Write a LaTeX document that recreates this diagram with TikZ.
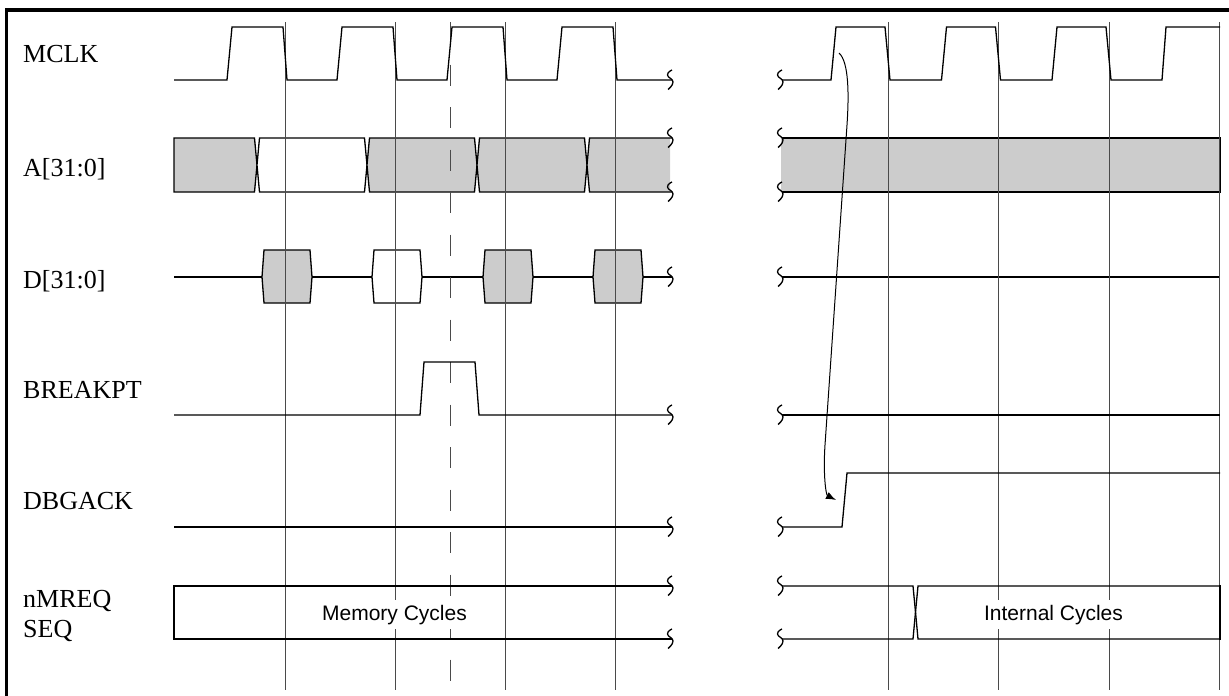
\documentclass[tikz,border=0pt]{standalone}
\usepackage{fontspec}
\setmainfont{Liberation Serif}
\setsansfont{Liberation Sans}
\usetikzlibrary{arrows.meta}
\definecolor{BusGray}{HTML}{CCCCCC}
\definecolor{GridGray}{HTML}{4A4A4A}
\tikzset{
  wave/.style={line width=1.3pt, draw=black},
  gridline/.style={line width=0.9pt, draw=GridGray},
  markerline/.style={gridline, dash pattern=on 21.3pt off 21.2pt},
  frameline/.style={line width=3.5pt, draw=black, line join=miter},
  edgeright/.style={line width=2.2pt, draw=black},
  siglabel/.style={anchor=base west, inner sep=0pt, font=\fontsize{26}{30}\selectfont},
  cyclelabel/.style={fill=white, inner xsep=1pt, inner ysep=5pt, font=\sffamily\fontsize{21}{25}\selectfont},
  edgearrow/.style={-{Latex[length=10pt,width=7.5pt]}, line width=1pt}
}
% break mark at the cut of a waveform
\newcommand{\wavebreak}[2]{\draw[wave] plot[smooth,tension=0.9] coordinates {({#1+2},{#2-10}) ({#1-2.5},{#2-5}) ({#1+3},{#2+2}) ({#1-2},{#2+9.5})};}

\begin{document}
\begin{tikzpicture}[x=1pt,y=-1pt]
    \useasboundingbox (0,0) rectangle (1229,696);
    \draw[frameline] (6.5,696) -- (6.5,10) -- (1229,10);

    % signal names
    \node[siglabel] (lmclk) at (23,62) {MCLK};
    \node[siglabel] (laddr) at (23,176) {A[31:0]};
    \node[siglabel] (ldata) at (23,288) {D[31:0]};
    \node[siglabel] (lbreak) at (23,398) {BREAKPT};
    \node[siglabel] (lack) at (23,509) {DBGACK};
    \node[siglabel] (lmreq) at (23,607) {nMREQ};
    \node[siglabel] (lseq) at (23,637) {SEQ};

    % address bus
    \filldraw[wave,fill=BusGray] (174,138) -- (254.5,138) -- (257,165) -- (254.5,192) -- (174,192) -- cycle;
    \foreach \a/\b/\f in {257/367/white,367/477/BusGray,477/587/BusGray}
      \filldraw[wave,fill=\f] ({\a+2.5},138) -- ({\b-2.5},138) -- (\b,165) -- ({\b-2.5},192) -- ({\a+2.5},192) -- (\a,165) -- cycle;
    \fill[BusGray] (589.5,138) -- (670,138) -- (670,192) -- (589.5,192) -- (587,165) -- cycle;
    \draw[wave] (672,138) -- (589.5,138) -- (587,165) -- (589.5,192) -- (672,192);
    \fill[BusGray] (781,138) rectangle (1220,192);
    \draw[wave] (782,138) -- (1220,138);
    \draw[wave] (782,192) -- (1220,192);
    \draw[edgeright] (1220,137) -- (1220,193);

    % data bus
    \draw[wave] (174,277) -- (672,277);
    \draw[wave] (782,277) -- (1220,277);
    \foreach \c/\f in {287/BusGray,397/white,508/BusGray,618/BusGray}
      \filldraw[wave,fill=\f] ({\c-25},277) -- ({\c-23},250) -- ({\c+23},250) -- ({\c+25},277) -- ({\c+23},303) -- ({\c-23},303) -- cycle;

    % clock edges
    \foreach \g in {285,395,505,615,888,998.5,1109,1219.5}
      \draw[gridline] (\g,22) -- (\g,690);
    \draw[markerline] (450,22) -- (450,690);

    \draw[wave] (174,80) \foreach \g in {285,395,505,615} {-- ({\g-58},80) -- ({\g-53},27) -- ({\g-2},27) -- ({\g+2},80)} -- (672,80);
    \draw[wave] (782,80) \foreach \g in {888,998.5,1109} {-- ({\g-57},80) -- ({\g-52},27) -- ({\g-3},27) -- ({\g+2},80)} -- (1162,80) -- (1166,27) -- (1220,27);

    \draw[wave] (174,415) -- (420,415) -- (424,362) -- (475,362) -- (479,415) -- (672,415);
    \draw[wave] (782,415) -- (1220,415);

    \draw[wave] (174,527) -- (672,527);
    \draw[wave] (782,527) -- (842,527) -- (847,473) -- (1220,473);

    % nMREQ / SEQ
    \draw[wave] (672,586) -- (174,586) -- (174,639) -- (672,639);
    \draw[wave] (782,586) -- (913,586) -- (915.5,612) -- (913,639) -- (782,639);
    \draw[wave] (918,586) -- (1220,586) -- (1220,639) -- (918,639) -- (915.5,612) -- cycle;
    \draw[edgeright] (1220,585) -- (1220,640);
    \node[cyclelabel,anchor=base] (memcyc) at (394.5,620) {Memory Cycles};
    \node[cyclelabel,anchor=base] (intcyc) at (1053.5,620) {Internal Cycles};

    \foreach \y in {80,138,192,277,415,527,586,639} {
      \wavebreak{670}{\y}
      \wavebreak{780}{\y}
    }

    \coordinate (mclkrise) at (839,53);
    \coordinate (ackrise) at (836,500);
    \draw[edgearrow] (mclkrise) .. controls (849,62) and (849,95) .. (847,125) -- (825,445) .. controls (823,475) and (826,495) .. (ackrise);
  \end{tikzpicture}
\end{document}
